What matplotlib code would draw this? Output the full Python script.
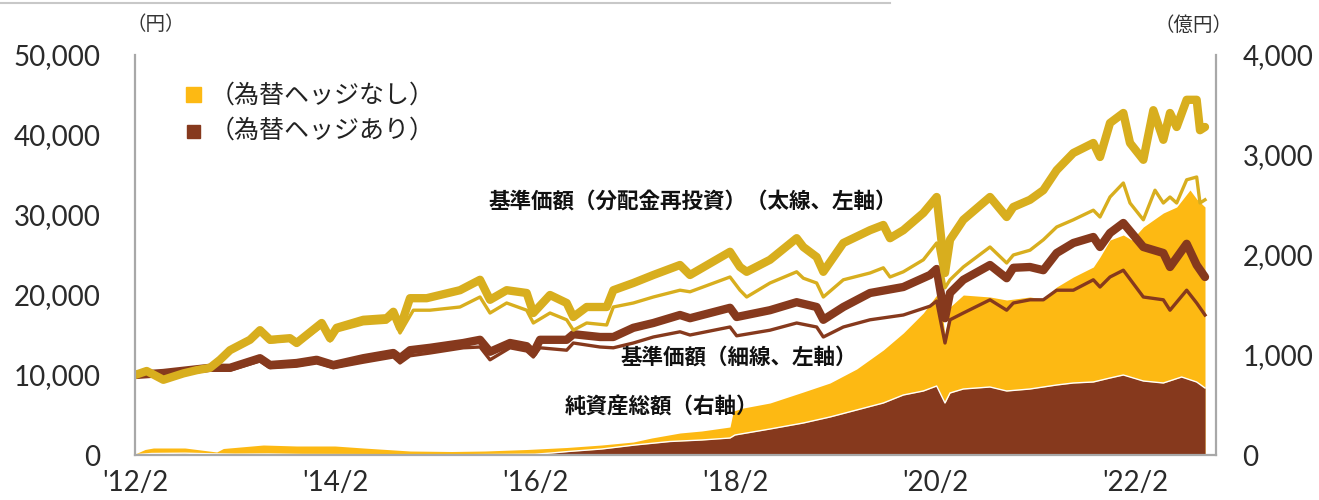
import matplotlib
matplotlib.use("Agg")
import matplotlib.pyplot as plt
from matplotlib.lines import Line2D
from matplotlib.patches import Rectangle

plt.rcParams['font.family'] = ['Lato', 'Noto Sans CJK JP', 'DejaVu Sans']

# ---------------- data (x = months since 2012/2) ----------------
thick_nohedge_m = [0, 1.4, 3.4, 5.8, 7.4, 9, 10.2, 11.4, 13.8, 15, 16.2, 18.6, 19.4, 22.4, 23.4, 24.2, 27.4,
                   30.2, 31, 31.8, 33, 35, 39, 41.4, 42.6, 44.6, 47, 47.8, 49.8, 51.8, 52.6, 54.2, 56.6, 57.4,
                   59.8, 62.2, 65.4, 66.6, 71.4, 72.6, 73.4, 76.2, 79.4, 80.2, 81.8, 82.6, 85, 88.2, 89.8, 90.6,
                   92.2, 94.6, 96.2, 97.2, 97.8, 99.4, 102.6, 104.6, 105.4, 107.4, 109, 110.6, 112.6, 115, 115.8,
                   117, 118.6, 119.4, 121, 122.2, 123.4, 124.2, 125, 126.2, 127.4, 127.8, 128.4]
thick_nohedge_v = [10000, 10500, 9400, 10200, 10600, 10900, 11900, 13100, 14400, 15600, 14400, 14600, 14000,
                   16500, 14600, 15900, 16900, 17100, 17900, 15900, 19600, 19600, 20600, 21900, 19400, 20600,
                   20250, 17750, 20000, 19000, 17250, 18500, 18500, 20600, 21500, 22500, 23750, 22500, 25400,
                   23500, 22900, 24400, 27100, 26000, 24750, 22900, 26500, 28100, 28750, 27100, 28100, 30250,
                   32250, 22750, 26900, 29400, 32250, 29750, 31000, 31900, 33100, 35600, 37750, 39000, 37250,
                   41500, 42750, 39000, 36900, 43100, 39400, 42750, 41000, 44400, 44400, 40600, 41000]

thin_nohedge_m = [0, 1.4, 3.4, 5.8, 7.4, 9, 10.2, 11.4, 13.8, 15, 16.2, 18.6, 19.4, 22.4, 23.4, 24.2, 27.4,
                  30.2, 31, 31.8, 33.4, 35.4, 39, 41.4, 42.6, 44.6, 47, 47.8, 49.8, 51.8, 52.6, 54.2, 56.6, 57.4,
                  59.8, 62.2, 65.4, 66.6, 71.4, 72.6, 73.4, 76.2, 79.4, 80.2, 81.8, 82.6, 85, 88.2, 89.8, 90.6,
                  92.2, 94.6, 96.2, 97.2, 97.8, 99.4, 102.6, 104.6, 105.4, 107.4, 109, 110.6, 112.6, 115, 115.8,
                  117, 118.6, 119.4, 121, 122.4, 123.4, 124.2, 125, 126.2, 127.4, 127.8, 128.4]
thin_nohedge_v = [10000, 10600, 9250, 10100, 10500, 10750, 11750, 13000, 14250, 15500, 14100, 14400, 13750,
                  16100, 14250, 15500, 16400, 16600, 17250, 15250, 18100, 18100, 18500, 19750, 17750, 19000,
                  18100, 16500, 17750, 16900, 15600, 16500, 16250, 18500, 19000, 19750, 20600, 20400, 22250,
                  20600, 19750, 21500, 22900, 22100, 21500, 19750, 21900, 22750, 23400, 22250, 22900, 24400,
                  26500, 20900, 21900, 23500, 26000, 24000, 25000, 25600, 26900, 28500, 29400, 30600, 29750,
                  32250, 34000, 31500, 29400, 33100, 31500, 32250, 31500, 34400, 34750, 31500, 31900]

thick_hedge_m = [0, 3.4, 9, 11.4, 15, 16.2, 19.4, 21.8, 23.8, 27.4, 31, 31.8, 33, 35.4, 39.4, 41.4, 42.6, 45,
                 47, 47.8, 48.6, 51.8, 52.6, 55.8, 57.4, 59.8, 62.2, 65.4, 66.6, 71.4, 72.2, 76.2, 79.4, 81.8,
                 82.6, 85, 88.2, 92.2, 95.4, 96.2, 97.2, 97.8, 99.4, 102.6, 104.6, 105.4, 107.4, 109, 110.6,
                 112.6, 115, 115.8, 117, 118.6, 121, 123.4, 124.2, 126.2, 127.4, 128.4]
thick_hedge_v = [10000, 10250, 10900, 10900, 12100, 11250, 11500, 11900, 11250, 12100, 12750, 12100, 13100,
                 13400, 14000, 14400, 12900, 14000, 13600, 12750, 14400, 14400, 15100, 14750, 14750, 15900,
                 16500, 17500, 17100, 18400, 17250, 18100, 19100, 18500, 16900, 18500, 20250, 21000, 22500,
                 23250, 17100, 20250, 21900, 23750, 22100, 23400, 23500, 23100, 25250, 26500, 27250, 26000,
                 27750, 29000, 26000, 25250, 23500, 26400, 23750, 22250]

thin_hedge_m = thick_hedge_m
thin_hedge_v = [10000, 10100, 10600, 10600, 11750, 10900, 11100, 11500, 10900, 11600, 12250, 11500, 12400,
                12750, 13400, 13500, 11900, 13400, 13000, 12250, 13400, 13100, 14000, 13500, 13400, 14000,
                14750, 15400, 15000, 16000, 14900, 15600, 16500, 16000, 14750, 16000, 16900, 17500, 18600,
                19250, 14000, 16900, 17750, 19400, 18100, 19000, 19400, 19400, 20600, 20600, 21900, 21000,
                22250, 23100, 19750, 19400, 18100, 20600, 19000, 17500]

# net assets (100 million yen, right axis)
assets_nohedge_m = [0, 1.2, 2.2, 6, 9.8, 10.6, 15.4, 19.4, 24, 27.4, 33, 38, 42, 47, 51.8, 56, 59.8, 62, 65.4,
                    68, 71.4, 71.8, 73, 76.2, 80.2, 83.4, 86.6, 89.8, 92.2, 94.6, 96.2, 96.8, 97.2, 97.8, 99.4,
                    102.6, 104.6, 107.4, 109, 110.6, 112.6, 115, 115.8, 117, 118.6, 119.6, 121, 122.2, 123.4,
                    125, 126.6, 127.4, 128.4]
assets_nohedge_v = [10, 55, 70, 70, 30, 65, 100, 90, 90, 70, 40, 35, 40, 55, 75, 100, 130, 170, 220, 240, 280,
                    440, 470, 520, 630, 720, 860, 1050, 1220, 1420, 1600, 1450, 1200, 1480, 1600, 1580, 1550,
                    1580, 1560, 1680, 1780, 1880, 1980, 2150, 2200, 2150, 2280, 2350, 2420, 2480, 2650, 2560,
                    2480]

assets_hedge_m = [0, 2, 6, 9, 12, 16, 20, 30, 40, 48, 50, 52, 56, 60, 64.2, 68, 71.4, 72, 76.2, 80.2, 83.4,
                  86.6, 89.8, 92.2, 94.6, 96.2, 97.2, 97.8, 99.4, 102.6, 104.6, 107.4, 110.6, 112.6, 115, 117,
                  118.6, 121, 123.4, 125.6, 127.4, 128.4]
assets_hedge_v = [3, 15, 18, 12, 8, 10, 5, 3, 3, 8, 20, 35, 60, 100, 135, 150, 170, 200, 260, 320, 380, 450,
                  520, 600, 640, 690, 520, 620, 660, 680, 640, 660, 700, 720, 730, 770, 800, 740, 720, 780,
                  730, 670]

xtick_m = [0, 24, 48, 72, 96, 120]
xtick_labels = ["'12/2", "'14/2", "'16/2", "'18/2", "'20/2", "'22/2"]
left_ticks = [0, 10000, 20000, 30000, 40000, 50000]
right_ticks = [0, 1000, 2000, 3000, 4000]

# ---------------- styling ----------------
GOLD = '#D8AE1E'
YELLOW = '#FDB913'
BROWN = '#86391D'
SPINE = '#A8A8A8'
JP = ['Noto Sans CJK JP', 'DejaVu Sans']
NUM = ['Lato', 'DejaVu Sans']

W, H = 1319, 500
fig = plt.figure(figsize=(W / 100, H / 100), dpi=100)
ax = fig.add_axes([135 / W, 45 / H, (1216 - 135) / W, 400 / H])
ax2 = ax.twinx()
ax.set_zorder(ax2.get_zorder() + 1)
ax.patch.set_visible(False)

# areas (right axis)
ax2.fill_between(assets_nohedge_m, 0, assets_nohedge_v, color=YELLOW, linewidth=0)
ax2.fill_between(assets_hedge_m, 0, assets_hedge_v, color=BROWN, linewidth=0)
ax2.plot(assets_hedge_m, assets_hedge_v, color='white', lw=1.0)

# lines (left axis)
ax.plot(thin_hedge_m, thin_hedge_v, color=BROWN, lw=2.4, solid_joinstyle='round')
ax.plot(thick_hedge_m, thick_hedge_v, color=BROWN, lw=6.0, solid_capstyle='round', solid_joinstyle='round')
ax.plot(thin_nohedge_m, thin_nohedge_v, color=GOLD, lw=2.4, solid_joinstyle='round')
ax.plot(thick_nohedge_m, thick_nohedge_v, color=GOLD, lw=6.0, solid_capstyle='round', solid_joinstyle='round')

xmax = (1216 - 135) / (100 / 12)
for a in (ax, ax2):
    a.set_xlim(0, xmax)
    for s in a.spines.values():
        s.set_visible(False)
ax.set_ylim(0, 50000)
ax2.set_ylim(0, 4000)

for name in ('left', 'bottom'):
    ax.spines[name].set_visible(True)
    ax.spines[name].set_color(SPINE)
    ax.spines[name].set_linewidth(1.6)
ax2.spines['right'].set_visible(True)
ax2.spines['right'].set_color(SPINE)
ax2.spines['right'].set_linewidth(1.6)

tick_kw = dict(fontfamily=NUM, fontsize=20, color='#2A2A2A')
ax.set_xticks(xtick_m)
ax.set_xticklabels(xtick_labels, **tick_kw)
ax.set_yticks(left_ticks)
ax.set_yticklabels([f"{v:,}" for v in left_ticks], **tick_kw)
ax2.set_yticks(right_ticks)
ax2.set_yticklabels([f"{v:,}" for v in right_ticks], **tick_kw)
ax.tick_params(axis='x', length=0, pad=11)
ax.tick_params(axis='y', length=0, pad=25)
ax2.tick_params(axis='y', length=0, pad=19)

def P(x, y):
    return x / W, 1 - y / H

# units
fig.text(*P(156, 25), '（円）', fontfamily=JP, fontsize=14, ha='center', va='center', color='#333333')
fig.text(*P(1193, 25), '（億円）', fontfamily=JP, fontsize=14, ha='center', va='center', color='#333333')

# legend
fig.add_artist(Rectangle(P(186, 102), 15 / W, 15 / H, color=YELLOW, transform=fig.transFigure))
fig.add_artist(Rectangle(P(187, 138), 13 / W, 13 / H, color=BROWN, transform=fig.transFigure))
fig.text(*P(210, 96), '（為替ヘッジなし）', fontfamily=JP, fontsize=18, ha='left', va='center', color='#222222')
fig.text(*P(210, 131), '（為替ヘッジあり）', fontfamily=JP, fontsize=18, ha='left', va='center', color='#222222')

# annotations
fig.text(*P(488, 201), '基準価額（分配金再投資）（太線、左軸）', fontfamily=JP, fontsize=15.5,
         fontweight='bold', ha='left', va='center', color='#111111')
fig.text(*P(620, 357), '基準価額（細線、左軸）', fontfamily=JP, fontsize=15.5,
         fontweight='bold', ha='left', va='center', color='#111111')
fig.text(*P(565, 407), '純資産総額（右軸）', fontfamily=JP, fontsize=15.5,
         fontweight='bold', ha='left', va='center', color='#111111')

# top decorative rule
fig.add_artist(Line2D([0, 890 / W], [1 - 3 / H, 1 - 3 / H], color='#C8C8C8', lw=1.5,
                      transform=fig.transFigure))

fig.savefig('out.png', dpi=100)
